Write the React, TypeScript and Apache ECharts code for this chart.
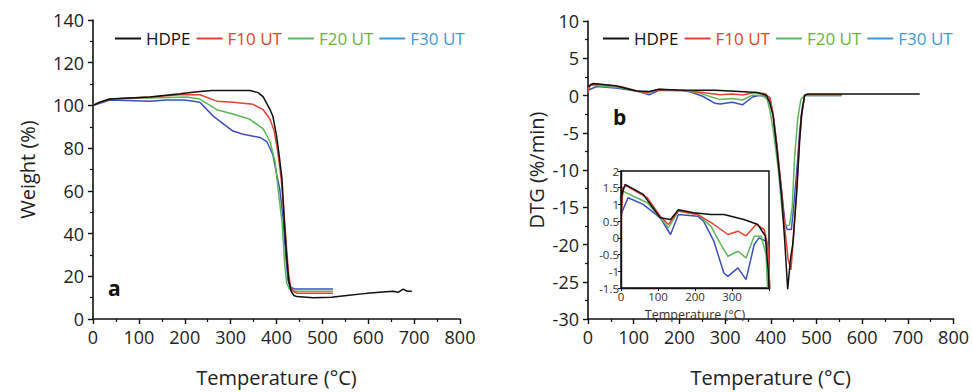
import React, { useEffect, useRef } from "react";
import * as echarts from "echarts";

const SERIES_NAMES = ["HDPE", "F10 UT", "F20 UT", "F30 UT"];
const LINE_COLORS = ["#111111", "#e8412f", "#5bb85a", "#3f4fbf"];
const LEGEND_TEXT_COLORS = ["#111111", "#e8412f", "#6cb33e", "#3d9ad8"];
const LEGEND_ICON_COLORS = ["#111111", "#e8412f", "#5bb85a", "#3d9ad8"];

// TGA: [temperature °C, weight %]
const HDPE_TGA = [
  [0, 100], [15, 101.5], [37, 103], [80, 103.5], [124, 104], [190, 105.5], [233, 106.5], [260, 107],
  [342, 107], [360, 106], [371, 104], [386, 98], [392, 95], [400, 86], [405, 78], [412, 65.5],
  [418, 42], [423, 27], [427, 17.7], [432, 13], [438, 11], [444, 10.5], [480, 10], [520, 10.2],
  [553, 11], [597, 12], [625, 12.5], [654, 13], [665, 12.5], [676, 14], [685, 13], [695, 13],
];
const F10_TGA = [
  [0, 100], [15, 101.5], [37, 103], [124, 104], [190, 105], [233, 105], [270, 102], [305, 101.5],
  [349, 100.5], [371, 98], [386, 93.5], [395, 88], [403, 78], [410, 66], [418, 45], [423, 30],
  [427, 20], [431, 15], [437, 13], [445, 12], [523, 12],
];
const F20_TGA = [
  [0, 100], [15, 101.5], [37, 103], [124, 103.5], [204, 104], [233, 103], [270, 98], [305, 96],
  [342, 93.5], [371, 89], [386, 83], [397, 73.5], [405, 58], [412, 45.6], [418, 25], [422, 17],
  [428, 14], [440, 13], [523, 13],
];
const F30_TGA = [
  [0, 100], [15, 101], [37, 102.5], [124, 102], [160, 102.5], [200, 102.5], [233, 101.5], [262, 95],
  [305, 88], [327, 86.5], [364, 85], [379, 83], [392, 77], [400, 68], [407, 61], [414, 48],
  [420, 30], [425, 18], [430, 15], [440, 14], [523, 14],
];

// DTG: [temperature °C, %/min]
const HDPE_DTG = [
  [0, 1.2], [11, 1.6], [60, 1.3], [106, 0.6], [134, 0.55], [155, 0.84], [196, 0.75], [243, 0.7],
  [278, 0.7], [332, 0.55], [370, 0.4], [390, 0.05], [398, -1], [405, -2.7], [413, -7], [424, -13.7],
  [431, -20], [437, -26], [443, -22], [448, -20], [457, -12.8], [463, -6.2], [467, -2.7], [474, 0],
  [480, 0.2], [726, 0.2],
];
const F10_DTG = [
  [0, 0.35], [5, 1.5], [16, 1.55], [71, 1.2], [106, 0.65], [128, 0.4], [155, 0.8], [207, 0.7],
  [251, 0.4], [289, 0.1], [316, 0.2], [338, 0.06], [365, 0.4], [387, 0.25], [398, -0.3], [405, -2.5],
  [413, -6.5], [424, -13], [431, -18], [438, -22], [444, -23.4], [450, -19], [457, -12], [463, -6],
  [468, -2.5], [474, 0], [480, 0.1], [555, 0.1],
];
const F20_DTG = [
  [0, 0.9], [5, 1.4], [71, 1.05], [114, 0.5], [128, 0.3], [155, 0.8], [207, 0.7], [243, 0.35],
  [270, -0.2], [289, -0.55], [316, -0.4], [338, -0.6], [360, 0.05], [379, 0.05], [392, -0.5],
  [398, -2], [405, -4.5], [416, -9.7], [426, -16.3], [433, -17.5], [441, -17.4], [447, -15],
  [452, -8.4], [459, -3.1], [466, -0.5], [474, 0], [555, 0],
];
const F30_DTG = [
  [0, 0.7], [19, 1.2], [60, 1.0], [106, 0.6], [134, 0.1], [155, 0.7], [207, 0.65], [223, 0.5],
  [251, -0.1], [278, -1.05], [289, -1.15], [316, -0.9], [338, -1.25], [360, -0.2], [373, 0],
  [392, -0.1], [398, -0.4], [405, -2.5], [413, -6.5], [424, -13], [431, -17], [436, -18], [445, -18],
  [450, -15], [457, -10], [463, -5], [468, -2], [474, 0], [555, 0],
];

const TGA_DATA = [HDPE_TGA, F10_TGA, F20_TGA, F30_TGA];
const DTG_DATA = [HDPE_DTG, F10_DTG, F20_DTG, F30_DTG];

const FONT = "Open Sans";
const TEXT = "#222222";
const INSET_TEXT = "#3a2f25";

function mainAxis(extra: any) {
  return {
    type: "value",
    splitLine: { show: false },
    axisLine: { show: true, onZero: false, lineStyle: { color: "#111", width: 1.6 } },
    axisTick: { show: true, inside: false, length: 5, lineStyle: { color: "#111", width: 1.4 } },
    minorTick: { show: true, splitNumber: 2, length: 3, lineStyle: { color: "#111", width: 1.2 } },
    axisLabel: { fontSize: 18, color: TEXT, fontFamily: FONT, margin: 9 },
    nameLocation: "middle",
    nameTextStyle: { fontSize: 20, color: TEXT, fontFamily: FONT },
    ...extra,
  };
}

function insetAxis(extra: any) {
  return {
    type: "value",
    splitLine: { show: false },
    axisLine: { show: true, onZero: false, lineStyle: { color: "#111", width: 1.4 } },
    axisTick: { show: true, inside: false, length: 3, lineStyle: { color: "#111", width: 1 } },
    minorTick: { show: false },
    axisLabel: { fontSize: 11.5, color: INSET_TEXT, fontFamily: FONT, margin: 2, lineHeight: 12 },
    nameLocation: "middle",
    nameTextStyle: { fontSize: 12.5, color: INSET_TEXT, fontFamily: FONT },
    ...extra,
  };
}

function legendFor(left: number) {
  return {
    left,
    top: 25,
    icon: "rect",
    itemWidth: 26,
    itemHeight: 2,
    itemGap: 6,
    selectedMode: false,
    textStyle: { fontSize: 17, fontFamily: FONT },
    data: SERIES_NAMES.map((n, i) => ({
      name: n,
      textStyle: { color: LEGEND_TEXT_COLORS[i], fontSize: 17, fontFamily: FONT },
      itemStyle: { color: LEGEND_ICON_COLORS[i] },
    })),
  };
}

export default function App() {
  const ref = useRef<HTMLDivElement>(null);
  useEffect(() => {
    document.body.style.margin = "0";
    const chart = echarts.init(ref.current!, null, { renderer: "svg" });
    const series: any[] = [];
    SERIES_NAMES.forEach((n, i) => {
      series.push({
        name: n, type: "line", xAxisIndex: 0, yAxisIndex: 0, data: TGA_DATA[i],
        symbol: "none", lineStyle: { color: LINE_COLORS[i], width: 1.5 }, itemStyle: { color: LINE_COLORS[i] },
        z: 10 - i,
      });
    });
    SERIES_NAMES.forEach((n, i) => {
      series.push({
        name: n, type: "line", xAxisIndex: 1, yAxisIndex: 1, data: DTG_DATA[i],
        symbol: "none", lineStyle: { color: LINE_COLORS[i], width: 1.5 }, itemStyle: { color: LINE_COLORS[i] },
        z: 10 - i,
      });
    });
    SERIES_NAMES.forEach((n, i) => {
      series.push({
        name: n, type: "line", xAxisIndex: 2, yAxisIndex: 2, data: DTG_DATA[i],
        symbol: "none", lineStyle: { color: LINE_COLORS[i], width: 1.5 }, itemStyle: { color: LINE_COLORS[i] },
        z: 20 - i, clip: true,
      });
    });

    chart.setOption({
      animation: false,
      backgroundColor: "#ffffff",
      grid: [
        { left: 93, top: 20, width: 367, height: 301 },
        { left: 588, top: 21, width: 366, height: 302 },
        { left: 621, top: 171, width: 148, height: 117, show: true, borderColor: "#111", borderWidth: 1.5, backgroundColor: "#ffffff", z: 5 },
      ],
      legend: [legendFor(110), legendFor(598)],
      xAxis: [
        mainAxis({ gridIndex: 0, min: 0, max: 800, interval: 100, name: "Temperature (°C)", nameGap: 48 }),
        mainAxis({ gridIndex: 1, min: 0, max: 800, interval: 100, name: "Temperature (°C)", nameGap: 48 }),
        insetAxis({
          gridIndex: 2, min: 0, max: 400, interval: 100, name: "Temperature (°C)", nameGap: 20, z: 21,
          axisLabel: { fontSize: 11.5, color: INSET_TEXT, fontFamily: FONT, margin: 2, lineHeight: 12, formatter: (v: number) => (v === 400 ? "" : String(v)) },
        }),
      ],
      yAxis: [
        mainAxis({ gridIndex: 0, min: 0, max: 140, interval: 20, name: "Weight (%)", nameGap: 56 }),
        mainAxis({ gridIndex: 1, min: -30, max: 10, interval: 5, name: "DTG (%/min)", nameGap: 42 }),
        insetAxis({ gridIndex: 2, min: -1.5, max: 2, interval: 0.5, z: 21 }),
      ],
      graphic: [
        { type: "text", left: 108, top: 277, style: { text: "a", fontSize: 21, fontWeight: "bold", fill: "#111", fontFamily: FONT } },
        { type: "text", left: 613, top: 106, style: { text: "b", fontSize: 21, fontWeight: "bold", fill: "#111", fontFamily: FONT } },
      ],
      series,
    });
    return () => chart.dispose();
  }, []);
  return <div ref={ref} style={{ width: 972, height: 392 }} />;
}
